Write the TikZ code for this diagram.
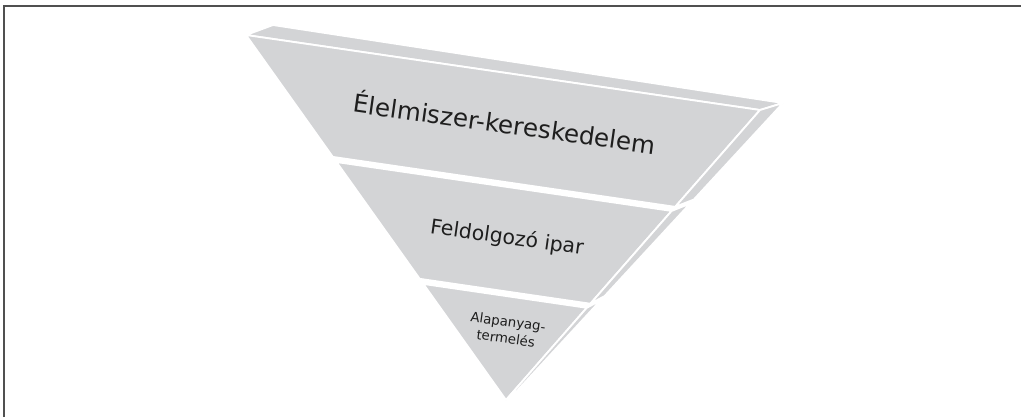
\documentclass[tikz,border=0pt]{standalone}
\usepackage{fontspec}
\setmainfont{DejaVu Sans}
\usetikzlibrary{calc}
\definecolor{pyrgray}{RGB}{211,212,214}
\definecolor{framegray}{RGB}{80,80,80}
\definecolor{textgray}{RGB}{30,30,30}
\tikzset{
  face/.style={fill=pyrgray, draw=white, line width=1.3pt, line join=round},
  tag/.style={text=textgray, align=center, rotate=-8, inner sep=0pt},
  frame/.style={draw=framegray, line width=1.1pt}
}

\begin{document}
\begin{tikzpicture}[x=0.025cm, y=-0.025cm]
  \useasboundingbox (0,0) rectangle (1021,417);
  \draw[frame] (4,417) -- (4,6) -- (1021,6);

  \coordinate (ftl) at (246,35);
  \coordinate (ftr) at (760,110);
  \coordinate (ftip) at (506,400);
  \coordinate (btl) at (273,25);
  \coordinate (btr) at (783,103);
  \coordinate (btip) at (516,392);

  % top face
  \path[face] (ftl) -- (btl) -- (btr) -- (ftr) -- cycle;

  % layers: front face and right side face
  \foreach \ta/\tb in {0/0.334, 0.348/0.668, 0.682/1} {
    \path[face] ($(ftl)!\ta!(ftip)$) -- ($(ftr)!\ta!(ftip)$) -- ($(ftr)!\tb!(ftip)$) -- ($(ftl)!\tb!(ftip)$) -- cycle;
    \path[face] ($(ftr)!\ta!(ftip)$) -- ($(btr)!\ta!(btip)$) -- ($(btr)!\tb!(btip)$) -- ($(ftr)!\tb!(ftip)$) -- cycle;
  }

  \node[tag, font=\fontsize{17.5}{20}\selectfont] (t1) at (505,122) {Élelmiszer-kereskedelem};
  \node[tag, font=\fontsize{14.5}{17}\selectfont] (t2) at (507,238) {Feldolgozó ipar};
  \node[tag, font=\fontsize{9.5}{12}\selectfont] (t3) at (507,330) {Alapanyag-\\termelés};
\end{tikzpicture}
\end{document}
